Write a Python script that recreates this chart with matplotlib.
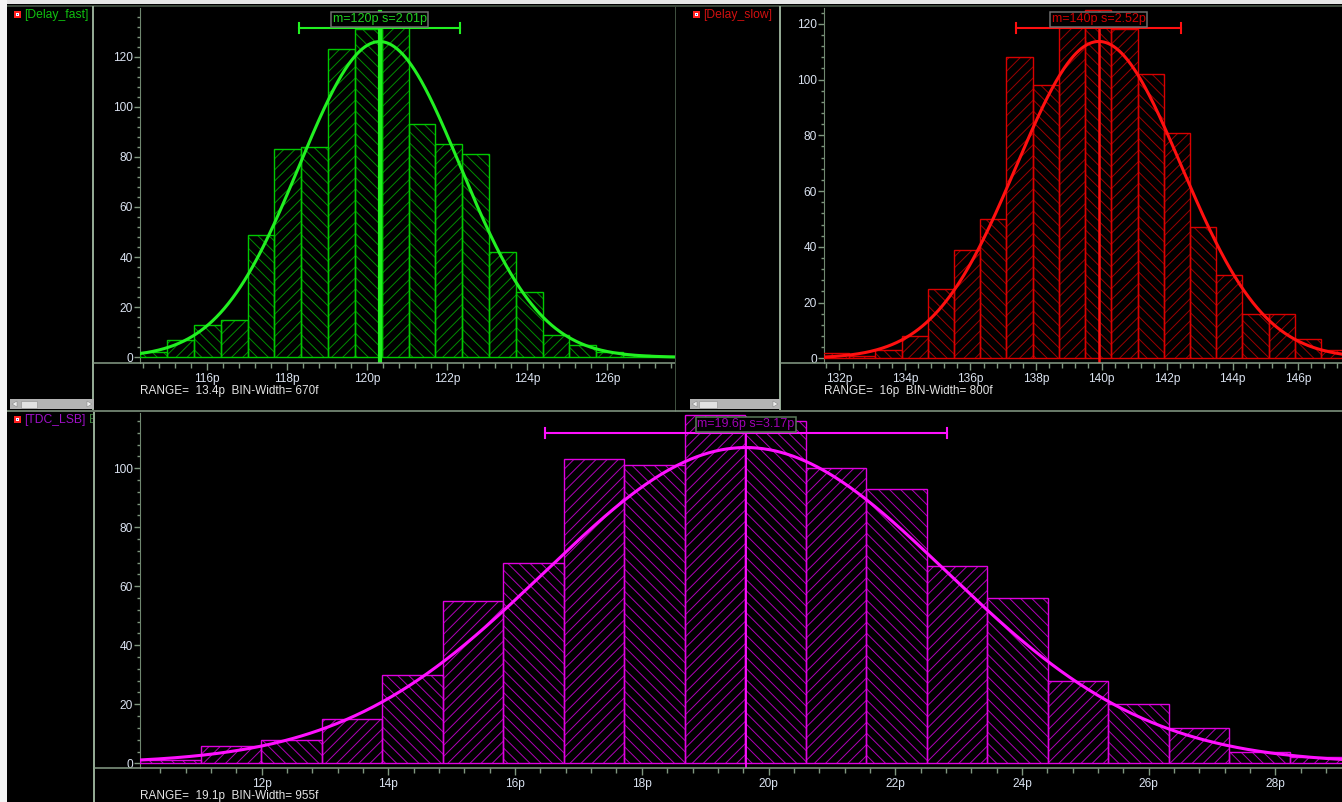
import numpy as np
import matplotlib
matplotlib.use("Agg")
import matplotlib.pyplot as plt
from matplotlib.patches import Rectangle, Polygon
from matplotlib.lines import Line2D
from matplotlib.transforms import Bbox, blended_transform_factory
from matplotlib.ticker import MultipleLocator, FixedLocator

W, H = 1342, 802

# Monte Carlo histograms: counts per bin, first bin edge / bin width (ps), fitted gaussian
FAST_COUNTS = [2, 7, 13, 15, 49, 83, 84, 123, 131, 138, 93, 85, 81, 42, 26, 9, 5, 2, 1, 0]
FAST_START, FAST_BIN = 114.33, 0.67
FAST_MEAN, FAST_SIGMA, FAST_PEAK = 120.31, 2.01, 126.0
FAST_XTICKS = [116, 118, 120, 122, 124, 126]
FAST_YTICKS = [0, 20, 40, 60, 80, 100, 120]

SLOW_COUNTS = [2, 1, 3, 8, 25, 39, 50, 108, 98, 119, 125, 118, 102, 81, 47, 30, 16, 16, 7, 3]
SLOW_START, SLOW_BIN = 131.5, 0.8
SLOW_MEAN, SLOW_SIGMA, SLOW_PEAK = 139.92, 2.52, 113.7
SLOW_XTICKS = [132, 134, 136, 138, 140, 142, 144, 146]
SLOW_YTICKS = [0, 20, 40, 60, 80, 100, 120]

LSB_COUNTS = [1, 6, 8, 15, 30, 55, 68, 103, 101, 118, 116, 100, 93, 67, 56, 28, 20, 12, 4, 2]
LSB_START, LSB_BIN = 10.08, 0.955
LSB_MEAN, LSB_SIGMA, LSB_PEAK = 19.64, 3.17, 107.0
LSB_XTICKS = [12, 14, 16, 18, 20, 22, 24, 26, 28]
LSB_YTICKS = [0, 20, 40, 60, 80, 100]

plt.rcParams["font.family"] = ["Liberation Sans", "DejaVu Sans"]
plt.rcParams["hatch.linewidth"] = 0.7

fig = plt.figure(figsize=(W / 100, H / 100), dpi=100, facecolor="black")

GRID_C = "#8aa08a"
TICK_C = "#7f967f"
LABEL_C = "#dae2f0"


def fline(x0, y0, x1, y1, color, lw_px, z=1):
    fig.add_artist(Line2D([x0 / W, x1 / W], [1 - y0 / H, 1 - y1 / H], transform=fig.transFigure,
                          color=color, lw=lw_px * 0.72, zorder=z, solid_capstyle="butt"))


def frect(x0, y0, x1, y1, fc, ec="none", lw=0.0, z=1):
    fig.add_artist(Rectangle((x0 / W, 1 - y1 / H), (x1 - x0) / W, (y1 - y0) / H, transform=fig.transFigure,
                             fc=fc, ec=ec, lw=lw, zorder=z))


def axes_px(x0, y0, x1, y1):
    return fig.add_axes([x0 / W, 1 - y1 / H, (x1 - x0) / W, (y1 - y0) / H])


def panel(ax, counts, start, binw, mean, sigma, peak, xlim, ylim, xticks, yticks,
          edge_c, hatch_c, curve_c, mean_lw, text_c, box_ec):
    ax.set_facecolor("black")
    counts = np.asarray(counts, float)
    lefts = start + binw * np.arange(len(counts))
    bars = ax.bar(lefts, counts, width=binw, align="edge", color="none", edgecolor=hatch_c,
                  linewidth=0, zorder=2)
    for k, b in enumerate(bars):
        b.set_hatch("///" if k % 2 else "\\\\\\")
    ax.bar(lefts, counts, width=binw, align="edge", fill=False, edgecolor=edge_c, linewidth=1.0, zorder=3)

    xs = np.linspace(xlim[0], xlim[1], 800)
    ax.plot(xs, peak * np.exp(-0.5 * ((xs - mean) / sigma) ** 2), color=curve_c, lw=2.2, zorder=4)
    ax.axvline(mean, ymax=0.99, color=curve_c, lw=mean_lw, zorder=4)

    # +/- one sigma bar with the stats box above it
    tr = blended_transform_factory(ax.transData, ax.transAxes)
    ax.plot([mean - sigma, mean + sigma], [0.943, 0.943], transform=tr, color=curve_c, lw=1.5,
            zorder=5, clip_on=False)
    for xe in (mean - sigma, mean + sigma):
        ax.plot([xe, xe], [0.929, 0.957], transform=tr, color=curve_c, lw=1.5, zorder=5, clip_on=False)
    ax.text(mean, 0.969, f"m={mean:.3g}p s={sigma:.3g}p", transform=tr, ha="center", va="center",
            color=text_c, fontsize=9, zorder=6,
            bbox=dict(boxstyle="square,pad=0.12", fc="black", ec=box_ec, lw=1.1))

    ax.text(0, -0.078, f"RANGE=  {len(counts) * binw:.3g}p  BIN-Width= {binw * 1000:.0f}f",
            transform=ax.transAxes, ha="left", va="center", color="#e4e4e4", fontsize=8.5)

    ax.set_xlim(xlim)
    ax.set_ylim(ylim)
    ax.xaxis.set_major_locator(FixedLocator(xticks))
    ax.set_xticklabels([f"{t:g}p" for t in xticks])
    ax.xaxis.set_minor_locator(MultipleLocator(0.4))
    ax.yaxis.set_major_locator(FixedLocator(yticks))
    ax.set_yticklabels([f"{t:g}" for t in yticks])
    ax.yaxis.set_minor_locator(MultipleLocator(4))
    for s in ("top", "right", "bottom"):
        ax.spines[s].set_visible(False)
    ax.spines["left"].set_color("#6f876f")
    ax.tick_params(axis="both", which="both", color=TICK_C, labelcolor=LABEL_C, labelsize=8.6,
                   direction="out")
    ax.tick_params(axis="x", which="major", length=5, width=1, pad=2.5)
    ax.tick_params(axis="x", which="minor", length=3.5, width=1)
    ax.tick_params(axis="y", which="major", length=4.5, width=1, pad=0.5)
    ax.tick_params(axis="y", which="minor", length=2.5, width=1)


ax1 = axes_px(140, 8, 675, 363)
panel(ax1, FAST_COUNTS, FAST_START, FAST_BIN, FAST_MEAN, FAST_SIGMA, FAST_PEAK,
      (114.32, 127.69), (-2.28, 139.4), FAST_XTICKS, FAST_YTICKS,
      "#00c800", "#008c00", "#22f022", 3.0, "#20d020", "#6e6e6e")

ax2 = axes_px(824, 8, 1342, 363)
panel(ax2, SLOW_COUNTS, SLOW_START, SLOW_BIN, SLOW_MEAN, SLOW_SIGMA, SLOW_PEAK,
      (131.53, 147.34), (-1.69, 125.7), SLOW_XTICKS, SLOW_YTICKS,
      "#d80000", "#9c0000", "#ff1010", 1.8, "#d00000", "#6e6e6e")

ax3 = axes_px(140, 413, 1342, 768)
panel(ax3, LSB_COUNTS, LSB_START, LSB_BIN, LSB_MEAN, LSB_SIGMA, LSB_PEAK,
      (10.08, 29.05), (-1.59, 118.7), LSB_XTICKS, LSB_YTICKS,
      "#e000e0", "#b000b8", "#ff10ff", 1.3, "#a000b4", "#5a7a5a")

# window frame: light strips, panel separators, axis base lines
frect(0, 0, W, 4, "#e6e6e6", z=0.5)
frect(0, 0, 7, H, "#f4f4f4", z=0.5)
fline(7, 5.5, W, 5.5, "#4d5d4d", 1.5)
fline(93, 6, 93, 410, "#92a892", 2)
fline(779.5, 6, 779.5, 410, "#92a892", 2)
fline(94, 412, 94, H, "#92a892", 2)
fline(675, 6, 675, 411, "#3e4e3e", 1)
fline(7, 411, W, 411, GRID_C, 1.5)
fline(93, 363, 675, 363, GRID_C, 1.5)
fline(780, 363, W, 363, GRID_C, 1.5)
fline(94, 767.5, W, 767.5, GRID_C, 1.5)


def scrollbar(x0, x1, y0, y1, t0, t1):
    frect(x0, y0, x1, y1, "#b4b4b4", z=2)
    frect(t0, y0 + 1.5, t1, y1 - 1.5, "#e2e2e2", ec="#9a9a9a", lw=0.5, z=3)
    ym = (y0 + y1) / 2
    for pts in ([(x0 + 2, ym), (x0 + 7, y0 + 2), (x0 + 7, y1 - 2)],
                [(x1 - 2, ym), (x1 - 7, y0 + 2), (x1 - 7, y1 - 2)]):
        fig.add_artist(Polygon([(x / W, 1 - y / H) for x, y in pts], closed=True,
                               transform=fig.transFigure, fc="#eeeeee", ec="#8c8c8c", lw=0.4, zorder=3))


scrollbar(10, 94, 399, 409, 21, 37)
scrollbar(690, 780, 399, 409, 699, 717)


def legend_label(x_icon, y_top, text, color, clip_x1):
    frect(x_icon, y_top, x_icon + 7, y_top + 7, "#ff2020", z=3)
    frect(x_icon + 2, y_top + 2, x_icon + 5, y_top + 5, "#ffffff", z=4)
    frect(x_icon + 3, y_top + 3, x_icon + 4, y_top + 4, "#3040ff", z=5)
    t = fig.text((x_icon + 10) / W, 1 - (y_top + 4) / H, text, color=color, fontsize=8.7,
                 ha="left", va="center")
    t.set_clip_box(Bbox.from_extents(0, 0, clip_x1, H))
    return t


legend_label(14, 11, "[Delay_fast]", "#10c010", 92)
legend_label(693, 11, "[Delay_slow]", "#d01010", 778)
legend_label(14, 416, "[TDC_LSB]", "#a010c8", 93)
tail = fig.text(89 / W, 1 - 420 / H, "E", color="#3f7f3f", fontsize=8.7, ha="left", va="center")
tail.set_clip_box(Bbox.from_extents(0, 0, 93, H))

fig.savefig("out.png", dpi=100, facecolor="black")
